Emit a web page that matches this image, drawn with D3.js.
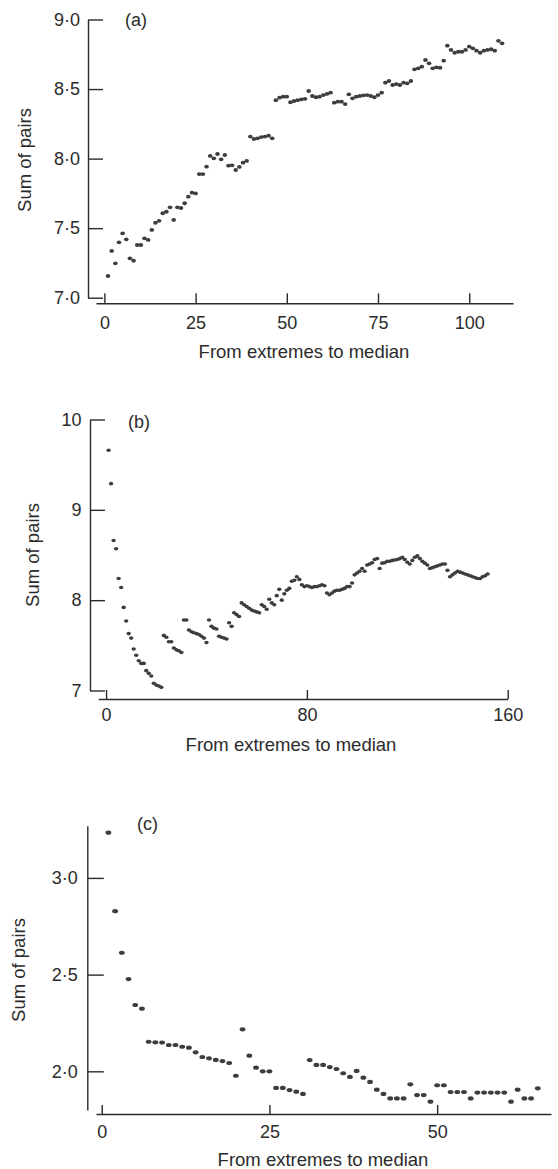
<!DOCTYPE html>
<html>
<head>
<meta charset="utf-8">
<script src="https://cdn.jsdelivr.net/npm/d3@7"></script>
<style>
  body { margin: 0; background: #fff; }
  svg { display: block; font-family: "Liberation Sans", Arial, Helvetica, sans-serif; }
</style>
</head>
<body>
<svg width="558" height="1169"></svg>
<script>
// panel (a): sum of pairs, index 1..109
const aValues = [
  7.156, 7.336, 7.247, 7.398, 7.463, 7.42, 7.283, 7.266, 7.379, 7.379,
  7.427, 7.415, 7.487, 7.539, 7.553, 7.607, 7.618, 7.65, 7.559, 7.65,
  7.645, 7.679, 7.726, 7.755, 7.75, 7.889, 7.889, 7.942, 8.019, 8.002,
  8.033, 7.995, 8.026, 7.949, 7.952, 7.918, 7.94, 7.971, 7.983, 8.158,
  8.141, 8.146, 8.155, 8.158, 8.165, 8.146, 8.42, 8.438, 8.445, 8.445,
  8.405, 8.414, 8.42, 8.426, 8.43, 8.486, 8.45, 8.441, 8.445, 8.457,
  8.465, 8.474, 8.402, 8.409, 8.409, 8.392, 8.462, 8.433, 8.445, 8.45,
  8.455, 8.457, 8.45, 8.441, 8.457, 8.474, 8.546, 8.558, 8.529, 8.536,
  8.529, 8.546, 8.541, 8.558, 8.642, 8.649, 8.661, 8.709, 8.685, 8.649,
  8.656, 8.653, 8.704, 8.812, 8.781, 8.761, 8.768, 8.768, 8.781, 8.805,
  8.793, 8.776, 8.761, 8.776, 8.781, 8.786, 8.776, 8.847, 8.829
];

// panel (b): index 1..152
const bValues = [
  9.66, 9.29, 8.66, 8.57, 8.24, 8.14, 7.92, 7.77, 7.63, 7.58,
  7.46, 7.39, 7.33, 7.30, 7.30, 7.22, 7.19, 7.16, 7.08, 7.06,
  7.05, 7.035, 7.61, 7.59, 7.54, 7.54, 7.47, 7.45, 7.44, 7.42,
  7.78, 7.78, 7.67, 7.65, 7.64, 7.63, 7.62, 7.60, 7.58, 7.53,
  7.78, 7.71, 7.69, 7.68, 7.60, 7.59, 7.58, 7.57, 7.75, 7.71,
  7.86, 7.84, 7.82, 7.97, 7.95, 7.93, 7.91, 7.89, 7.88, 7.87,
  7.86, 7.95, 7.93, 7.90, 8.01, 7.97, 7.95, 8.05, 8.12, 8.00,
  8.07, 8.11, 8.13, 8.21, 8.22, 8.26, 8.23, 8.17, 8.15, 8.16,
  8.15, 8.14, 8.15, 8.15, 8.16, 8.17, 8.16, 8.08, 8.06, 8.08,
  8.10, 8.11, 8.11, 8.12, 8.13, 8.15, 8.15, 8.19, 8.28, 8.30,
  8.32, 8.35, 8.32, 8.39, 8.40, 8.415, 8.45, 8.46, 8.35, 8.41,
  8.415, 8.43, 8.43, 8.44, 8.445, 8.45, 8.46, 8.475, 8.45, 8.42,
  8.40, 8.44, 8.475, 8.49, 8.46, 8.43, 8.41, 8.39, 8.35, 8.36,
  8.37, 8.38, 8.39, 8.40, 8.40, 8.33, 8.26, 8.28, 8.30, 8.32,
  8.31, 8.30, 8.29, 8.28, 8.27, 8.26, 8.25, 8.24, 8.24, 8.26,
  8.27, 8.29
];

// panel (c): index 1..65
const cValues = [
  3.234, 2.828, 2.613, 2.477, 2.343, 2.324, 2.153, 2.150, 2.149, 2.136,
  2.136, 2.127, 2.122, 2.098, 2.074, 2.067, 2.059, 2.053, 2.043, 1.977,
  2.217, 2.081, 2.019, 2.0, 2.0, 1.914, 1.914, 1.903, 1.895, 1.883,
  2.058, 2.033, 2.033, 2.022, 2.012, 1.990, 1.971, 2.002, 1.967, 1.945,
  1.905, 1.883, 1.860, 1.860, 1.860, 1.933, 1.877, 1.877, 1.843, 1.928,
  1.928, 1.893, 1.893, 1.893, 1.860, 1.890, 1.890, 1.890, 1.890, 1.890,
  1.843, 1.905, 1.860, 1.860, 1.912
];

const aXTicks = [0, 25, 50, 75, 100];
const aYTicks = [7, 7.5, 8, 8.5, 9];
const bXTicks = [0, 80, 160];
const bYTicks = [7, 8, 9, 10];
const cXTicks = [0, 25, 50];
const cYTicks = [2, 2.5, 3];

const panelLabels = ["(a)", "(b)", "(c)"];
const xTitle = "From extremes to median";
const yTitle = "Sum of pairs";

const svg = d3.select("svg");
const ink = "#2b2b2b";
const dotFill = "#3d3d3d";
const dotFmt = (d) => d3.format(".1f")(d).replace(".", "\u00b7");

function drawPanel(p) {
  const x = d3.scaleLinear().domain(p.xDomain).range(p.xRange);
  const y = d3.scaleLinear().domain(p.yDomain).range(p.yRange);
  const g = svg.append("g");

  // y axis, ticks pointing inward
  const yAxis = g.append("g")
    .attr("transform", `translate(${p.yAxisX},0)`)
    .call(d3.axisLeft(y).tickValues(p.yTicks).tickFormat(p.yFmt)
      .tickSize(-p.yTickLen).tickSizeOuter(0).tickPadding(p.yPad));

  const xAxis = g.append("g")
    .attr("transform", `translate(0,${p.xAxisY})`)
    .call(d3.axisBottom(x).tickValues(p.xTicks).tickFormat(d3.format("d"))
      .tickSize(-p.xTickLen).tickSizeOuter(0).tickPadding(p.xPad));

  [yAxis, xAxis].forEach((ax) => {
    ax.attr("font-family", null).attr("font-size", null);
    ax.selectAll("path, line").attr("stroke", ink).attr("stroke-width", 1.4);
    ax.selectAll("text").attr("fill", ink).style("font-size", "18px");
  });

  g.selectAll("ellipse")
    .data(p.values)
    .enter()
    .append("ellipse")
    .attr("cx", (d, i) => x(i + 1))
    .attr("cy", (d) => y(d))
    .attr("rx", p.rx)
    .attr("ry", p.ry)
    .attr("fill", dotFill);

  g.append("text")
    .attr("x", p.labelX)
    .attr("y", p.labelY)
    .attr("fill", ink)
    .style("font-size", "18px")
    .text(p.label);

  g.append("text")
    .attr("x", p.xTitleX)
    .attr("y", p.xTitleY)
    .attr("text-anchor", "middle")
    .attr("fill", ink)
    .style("font-size", "18.5px")
    .text(xTitle);

  g.append("text")
    .attr("transform", `translate(${p.yTitleX},${p.yTitleY}) rotate(-90)`)
    .attr("text-anchor", "middle")
    .attr("fill", ink)
    .style("font-size", "18.5px")
    .text(yTitle);
}

drawPanel({
  values: aValues, label: panelLabels[0],
  xDomain: [-2.3, 112], xRange: [96, 513],
  yDomain: [7, 9], yRange: [297.7, 19.5],
  xTicks: aXTicks, yTicks: aYTicks, yFmt: dotFmt,
  yAxisX: 88, xAxisY: 303.3, yTickLen: 15, xTickLen: 10, yPad: 8, xPad: 13,
  rx: 2.3, ry: 1.9,
  labelX: 125, labelY: 26, xTitleX: 304, xTitleY: 358, yTitleX: 31, yTitleY: 160
});

drawPanel({
  values: bValues, label: panelLabels[1],
  xDomain: [-3.1, 160], xRange: [98.3, 507.7],
  yDomain: [7, 10], yRange: [690.5, 419.5],
  xTicks: bXTicks, yTicks: bYTicks, yFmt: d3.format("d"),
  yAxisX: 90, xAxisY: 699, yTickLen: 15, xTickLen: 9, yPad: 8.5, xPad: 9.5,
  rx: 2.2, ry: 1.8,
  labelX: 128, labelY: 428, xTitleX: 291, xTitleY: 751, yTitleX: 39, yTitleY: 555
});

drawPanel({
  values: cValues, label: panelLabels[2],
  xDomain: [-0.85, 66.97], xRange: [96, 551],
  yDomain: [1.8, 3.27], yRange: [1110, 825.7],
  xTicks: cXTicks, yTicks: cYTicks, yFmt: dotFmt,
  yAxisX: 87.3, xAxisY: 1114, yTickLen: 16.5, xTickLen: 9, yPad: 9.5, xPad: 11,
  rx: 2.9, ry: 2.1,
  labelX: 137, labelY: 830, xTitleX: 323, xTitleY: 1166, yTitleX: 25, yTitleY: 970
});
</script>
</body>
</html>
